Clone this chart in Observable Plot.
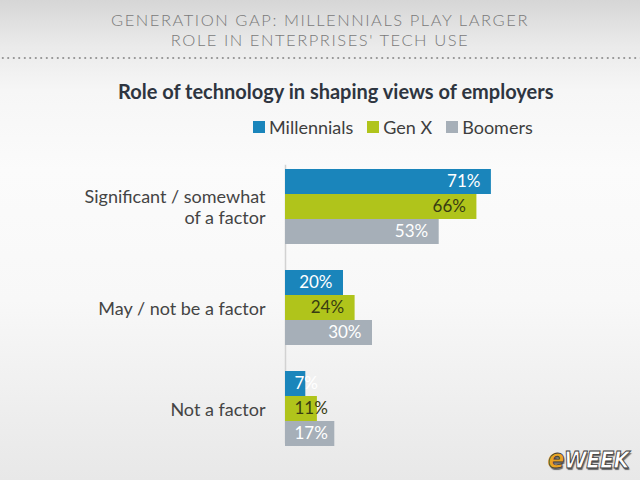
<!DOCTYPE html>
<html>
<head>
<meta charset="utf-8">
<script src="https://cdn.jsdelivr.net/npm/d3@7"></script>
<script src="https://cdn.jsdelivr.net/npm/@observablehq/plot@0.6"></script>
<style>
  html, body { margin: 0; padding: 0; }
  body {
    width: 640px; height: 480px; position: relative; overflow: hidden;
    font-family: Lato, "Open Sans", sans-serif;
    background: linear-gradient(to bottom, #d6d6d6 0px, #eaeaea 45px, #f6f6f6 90px, #fbfbfb 170px, #f8f8f8 300px, #ededed 420px, #e8e8e8 480px);
  }
  .headline {
    position: absolute; left: 0; width: 640px; text-align: center;
    font-family: Lato, sans-serif; font-weight: 300; font-size: 16.5px; line-height: 17px;
    color: #7a7a7a; letter-spacing: 1.55px;
  }
  #dots {
    position: absolute; left: 0; top: 56px; width: 640px; height: 4px;
    background-image: radial-gradient(circle, #9a9a9a 0.9px, rgba(0,0,0,0) 1.4px);
    background-size: 5.5px 4px; background-repeat: repeat-x;
  }
  #title {
    position: absolute; left: 118px; top: 79px;
    font-family: Lato, sans-serif; font-weight: 700; font-size: 20px; color: #2e3540;
  }
  #legend {
    position: absolute; left: 253px; top: 116px; display: flex; align-items: center;
    font-size: 18px; color: #3e3e3e;
  }
  #legend .item { display: flex; align-items: center; margin-right: 14px; }
  #legend .sw { width: 12px; height: 12px; margin-right: 4px; }
  #chart { position: absolute; left: 0; top: 150px; }
  #logo {
    position: absolute; left: 548px; top: 443px;
    font-family: "Liberation Sans Narrow", "DejaVu Sans Condensed", "Liberation Sans", sans-serif;
    font-weight: 700; font-style: italic; font-size: 23px; letter-spacing: -0.5px;
    color: #ffffff; -webkit-text-stroke: 0.8px #3a3a3a;
    text-shadow: 1px 2px 1px rgba(0,0,0,0.55);
  }
  #logo .e { color: #e9a323; font-size: 27px; }
</style>
</head>
<body>
<div class="headline" style="top:12px">GENERATION GAP: MILLENNIALS PLAY LARGER</div>
<div class="headline" style="top:32px">ROLE IN ENTERPRISES' TECH USE</div>
<div id="dots"></div>
<div id="title">Role of technology in shaping views of employers</div>
<div id="legend"></div>
<div id="chart"></div>
<div id="logo"><span class="e">e</span>WEEK</div>
<script>
// Survey answers by generation (percent of respondents)
const categories = ["Significant / somewhat\nof a factor", "May / not be a factor", "Not a factor"];
const series = ["Millennials", "Gen X", "Boomers"];
const millennials = [71, 20, 7];
const genX = [66, 24, 11];
const boomers = [53, 30, 17];
const seriesColors = ["#1a85bb", "#b0c41b", "#a6afb8"];
const valueLabelColors = ["#ffffff", "#383c12", "#ffffff"];

const seriesValues = [millennials, genX, boomers];
const rows = categories.flatMap((category, i) =>
  series.map((s, j) => ({category, series: s, value: seriesValues[j][i]}))
);

// Legend swatches
const legend = document.getElementById("legend");
series.forEach((s, j) => {
  const item = document.createElement("div");
  item.className = "item";
  const sw = document.createElement("span");
  sw.className = "sw";
  sw.style.background = seriesColors[j];
  item.appendChild(sw);
  item.appendChild(document.createTextNode(s));
  legend.appendChild(item);
});

const fmt = d => `${d.value}%`;
const labelMarks = series.flatMap((s, j) => [
  // labels that fit: right-aligned inside the bar end
  Plot.text(rows, {
    filter: d => d.series === s && d.value >= 18,
    x: "value", y: "series", fy: "category", text: fmt,
    textAnchor: "end", dx: -11, fill: valueLabelColors[j], fontSize: 17
  }),
  // short bars: label starts from the baseline
  Plot.text(rows, {
    filter: d => d.series === s && d.value < 18,
    x: 0, y: "series", fy: "category", text: fmt,
    textAnchor: "start", dx: 9, fill: valueLabelColors[j], fontSize: 17
  })
]);

const chart = Plot.plot({
  width: 640,
  height: 310,
  marginTop: 5,
  marginBottom: 0,
  marginLeft: 285,
  marginRight: 65,
  style: {background: "transparent", fontFamily: "Lato, 'Open Sans', sans-serif", fontSize: "16px", color: "#3e3e3e"},
  x: {domain: [0, 100], axis: null},
  y: {domain: series, padding: 0, axis: null},
  fy: {domain: categories, paddingInner: 0.24, paddingOuter: 0.12, axis: null},
  color: {domain: series, range: seriesColors},
  marks: [
    // vertical baseline spanning all three groups
    Plot.frame({anchor: "left", facet: "super", stroke: "#d2d2d2", strokeWidth: 1.5, insetTop: -3, insetBottom: 5}),
    Plot.barX(rows, {x: "value", y: "series", fy: "category", fill: "series"}),
    ...labelMarks,
    Plot.axisFy({anchor: "left", tickSize: 0, tickPadding: 20, fontSize: 18, lineHeight: 1.17, label: null, fill: "#444444"})
  ]
});
document.getElementById("chart").appendChild(chart);
</script>
</body>
</html>
